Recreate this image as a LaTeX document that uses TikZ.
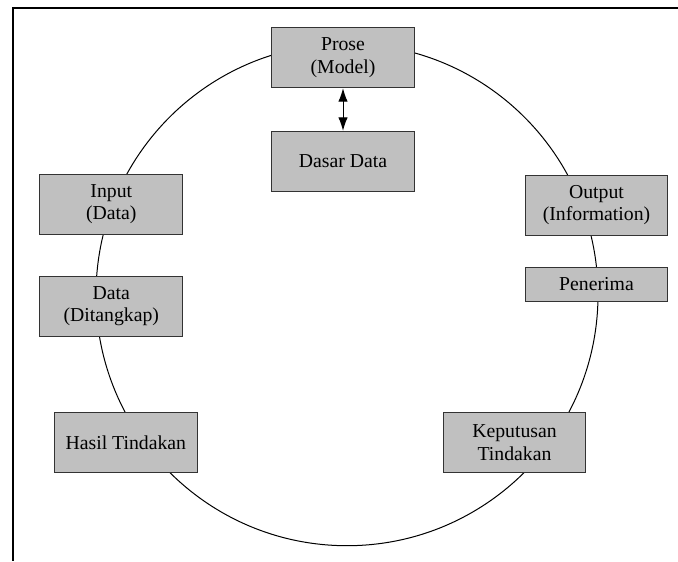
\documentclass[tikz,border=0pt]{standalone}
\usepackage{fontspec}
\setmainfont{Liberation Serif}
\usepackage{tikz}
\usetikzlibrary{positioning, arrows.meta}
\definecolor{boxgray}{HTML}{C0C0C0}

\begin{document}
\begin{tikzpicture}[x=0.75pt, y=-0.75pt, every node/.style={draw=black!80, line width=0.75pt, rectangle, fill=boxgray, align=center, minimum width=107pt, minimum height=45pt, font=\fontsize{14.8pt}{16.8pt}\selectfont}]
\useasboundingbox (0,0) rectangle (678,561);
\draw [line width=1.5pt] (678,7.5) -- (13,7.5) -- (13,561);
\draw [line width=0.75pt] (347,294.7) circle [radius=251];
\node (prose) at (343,57.7) {Prose\\(Model)};
\node (dasar) at (343,161.3) {Dasar Data};
\node (input) at (111.3,204) {Input\\(Data)};
\node (data) at (111.3,306) {Data\\(Ditangkap)};
\node (output) at (596.5,205) {Output\\(Information)};
\node[minimum height=25.8pt] (penerima) at (596.5,284.5) {Penerima};
\node (hasil) at (125.8,442.7) {Hasil Tindakan};
\node (keputusan) at (514.5,442.7) {Keputusan\\Tindakan};
\draw [line width=0.75pt, {Latex[length=10pt,width=7pt]}-{Latex[length=10pt,width=7pt]}] (prose.south) -- (dasar.north);
\end{tikzpicture}
\end{document}
